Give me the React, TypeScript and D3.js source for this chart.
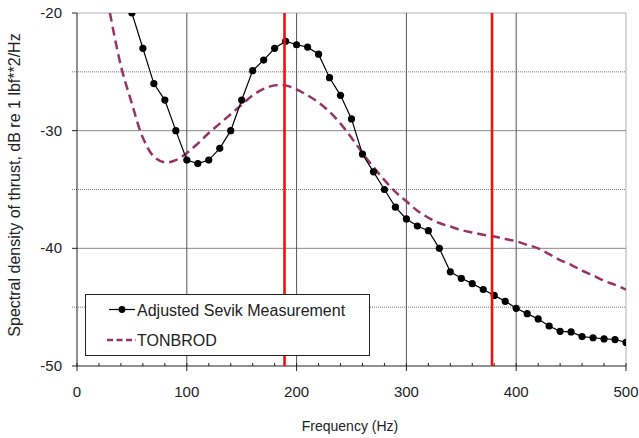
import React from "react";
import * as d3 from "d3";

const sevikFreq = [50, 60, 70, 80, 90, 100, 110, 120, 130, 140, 150, 160, 170, 180, 190, 200, 210, 220, 230, 240, 250, 260, 270, 280, 290, 300, 310, 320, 330, 340, 350, 360, 370, 380, 390, 400, 410, 420, 430, 440, 450, 460, 470, 480, 490, 500];
const sevikValues = [-20.0, -23.0, -26.0, -27.4, -30.0, -32.5, -32.8, -32.5, -31.5, -30.0, -27.4, -24.9, -24.0, -23.0, -22.4, -22.7, -22.9, -23.5, -25.5, -27.0, -29.0, -32.0, -33.5, -35.0, -36.5, -37.5, -38.1, -38.5, -40.0, -42.0, -42.55, -43.0, -43.5, -44.0, -44.5, -45.1, -45.55, -46.0, -46.6, -47.05, -47.1, -47.5, -47.6, -47.7, -47.75, -48.0];

const tonFreq = [30, 40, 50, 60, 70, 80, 90, 100, 110, 120, 130, 140, 150, 160, 170, 180, 190, 200, 210, 220, 230, 240, 250, 260, 270, 280, 290, 300, 310, 320, 330, 340, 350, 360, 370, 380, 390, 400, 410, 420, 430, 440, 450, 460, 470, 480, 490, 500];
const tonValues = [-20.0, -24.5, -27.7, -30.6, -32.2, -32.7, -32.5, -31.9, -31.1, -30.2, -29.4, -28.6, -27.8, -27.0, -26.45, -26.15, -26.15, -26.5, -27.0, -27.6, -28.4, -29.4, -30.6, -31.9, -33.1, -34.2, -35.2, -36.0, -36.8, -37.4, -37.85, -38.15, -38.45, -38.65, -38.85, -39.0, -39.2, -39.4, -39.7, -40.0, -40.5, -41.0, -41.4, -41.9, -42.3, -42.75, -43.1, -43.5];

const markerFreqs = [189, 378];
const xTicks = [0, 100, 200, 300, 400, 500];
const xMinorTicks = d3.range(0, 501, 20);
const yTicks = [-20, -30, -40, -50];
const yDotted = [-25, -35, -45];
const seriesNames = ["Adjusted Sevik Measurement", "TONBROD"];

const W = 639, H = 438;
const left = 77, right = 626, top = 13, bottom = 366;
const FONT = "'Liberation Sans', Arial, sans-serif";

export default function App() {
  const x = d3.scaleLinear().domain([0, 500]).range([left, right]);
  const y = d3.scaleLinear().domain([-50, -20]).range([bottom, top]);

  const sevik = sevikFreq.map((f, i) => [f, sevikValues[i]] as [number, number]);
  const ton = tonFreq.map((f, i) => [f, tonValues[i]] as [number, number]);

  const lineStraight = d3.line<[number, number]>().x(d => x(d[0])).y(d => y(d[1]));
  const lineSmooth = d3.line<[number, number]>().x(d => x(d[0])).y(d => y(d[1])).curve(d3.curveCatmullRom);

  return (
    <svg width={W} height={H} style={{ position: "absolute", left: 0, top: 0, background: "#fff" }} fontFamily={FONT}>
      <defs>
        <clipPath id="plot">
          <rect x={left} y={top} width={right - left} height={bottom - top} />
        </clipPath>
      </defs>
      {/* frame top/right */}
      <line x1={left} x2={right} y1={top} y2={top} stroke="#b0b0b0" strokeWidth={1} />
      <line x1={right} x2={right} y1={top} y2={bottom} stroke="#b0b0b0" strokeWidth={1} />
      {/* dotted minor gridlines */}
      {yDotted.map(v => (
        <line key={"d" + v} x1={left - 5} x2={right} y1={y(v)} y2={y(v)} stroke="#777" strokeWidth={1} strokeDasharray="1,1" />
      ))}
      {/* solid horizontal gridlines */}
      {yTicks.filter(v => v !== -50 && v !== -20).map(v => (
        <line key={"h" + v} x1={left} x2={right} y1={y(v)} y2={y(v)} stroke="#8a8a8a" strokeWidth={1} />
      ))}
      {/* vertical gridlines */}
      {xTicks.filter(v => v !== 0 && v !== 500).map(v => (
        <line key={"v" + v} x1={x(v)} x2={x(v)} y1={top} y2={bottom} stroke="#555" strokeWidth={1} />
      ))}
      {/* axes */}
      <line x1={left} x2={left} y1={top} y2={bottom} stroke="#222" strokeWidth={1} />
      <line x1={left} x2={right} y1={bottom} y2={bottom} stroke="#222" strokeWidth={1} />
      {yTicks.map(v => (
        <line key={"yt" + v} x1={left - 5} x2={left} y1={y(v)} y2={y(v)} stroke="#222" strokeWidth={1} />
      ))}
      {xTicks.map(v => (
        <line key={"xt" + v} x1={x(v)} x2={x(v)} y1={bottom} y2={bottom + 5} stroke="#222" strokeWidth={1} />
      ))}
      {xMinorTicks.map(v => (
        <line key={"xm" + v} x1={x(v)} x2={x(v)} y1={bottom - 3} y2={bottom} stroke="#222" strokeWidth={1} />
      ))}
      {/* tick labels */}
      {yTicks.map(v => (
        <text key={"yl" + v} x={left - 15} y={y(v) + 5} textAnchor="end" fontSize={15} fill="#222">{v}</text>
      ))}
      {xTicks.map(v => (
        <text key={"xl" + v} x={x(v)} y={bottom + 31} textAnchor="middle" fontSize={15} fill="#222">{v}</text>
      ))}
      {/* axis titles */}
      <text x={350} y={431} textAnchor="middle" fontSize={14} fill="#222">Frequency (Hz)</text>
      <text transform={`translate(20,185) rotate(-90)`} textAnchor="middle" fontSize={16} fill="#222">
        Spectral density of thrust, dB re 1 lbf**2/Hz
      </text>
      {/* series */}
      <g clipPath="url(#plot)">
        <path d={lineSmooth(ton) || ""} fill="none" stroke="#993366" strokeWidth={2.5} strokeDasharray="9,5" />
        <path d={lineStraight(sevik) || ""} fill="none" stroke="#000" strokeWidth={1.2} />
        {sevik.map((d, i) => (
          <circle key={"p" + i} cx={x(d[0])} cy={y(d[1])} r={3.6} fill="#000" />
        ))}
      </g>
      {/* red markers */}
      {markerFreqs.map(f => (
        <line key={"r" + f} x1={x(f)} x2={x(f)} y1={top} y2={bottom} stroke="#ee1111" strokeWidth={2.6} />
      ))}
      {/* legend */}
      <rect x={85.5} y={294.5} width={284} height={61} fill="#fff" stroke="#222" strokeWidth={1} />
      <line x1={109} x2={135} y1={309.5} y2={309.5} stroke="#000" strokeWidth={1.2} />
      <circle cx={122} cy={309.5} r={3.4} fill="#000" />
      <text x={137} y={315.5} fontSize={16} fill="#222">{seriesNames[0]}</text>
      <line x1={107} x2={136} y1={340} y2={340} stroke="#993366" strokeWidth={2.5} strokeDasharray="6,3.5" />
      <text x={137} y={345.5} fontSize={16} fill="#222">{seriesNames[1]}</text>
    </svg>
  );
}
